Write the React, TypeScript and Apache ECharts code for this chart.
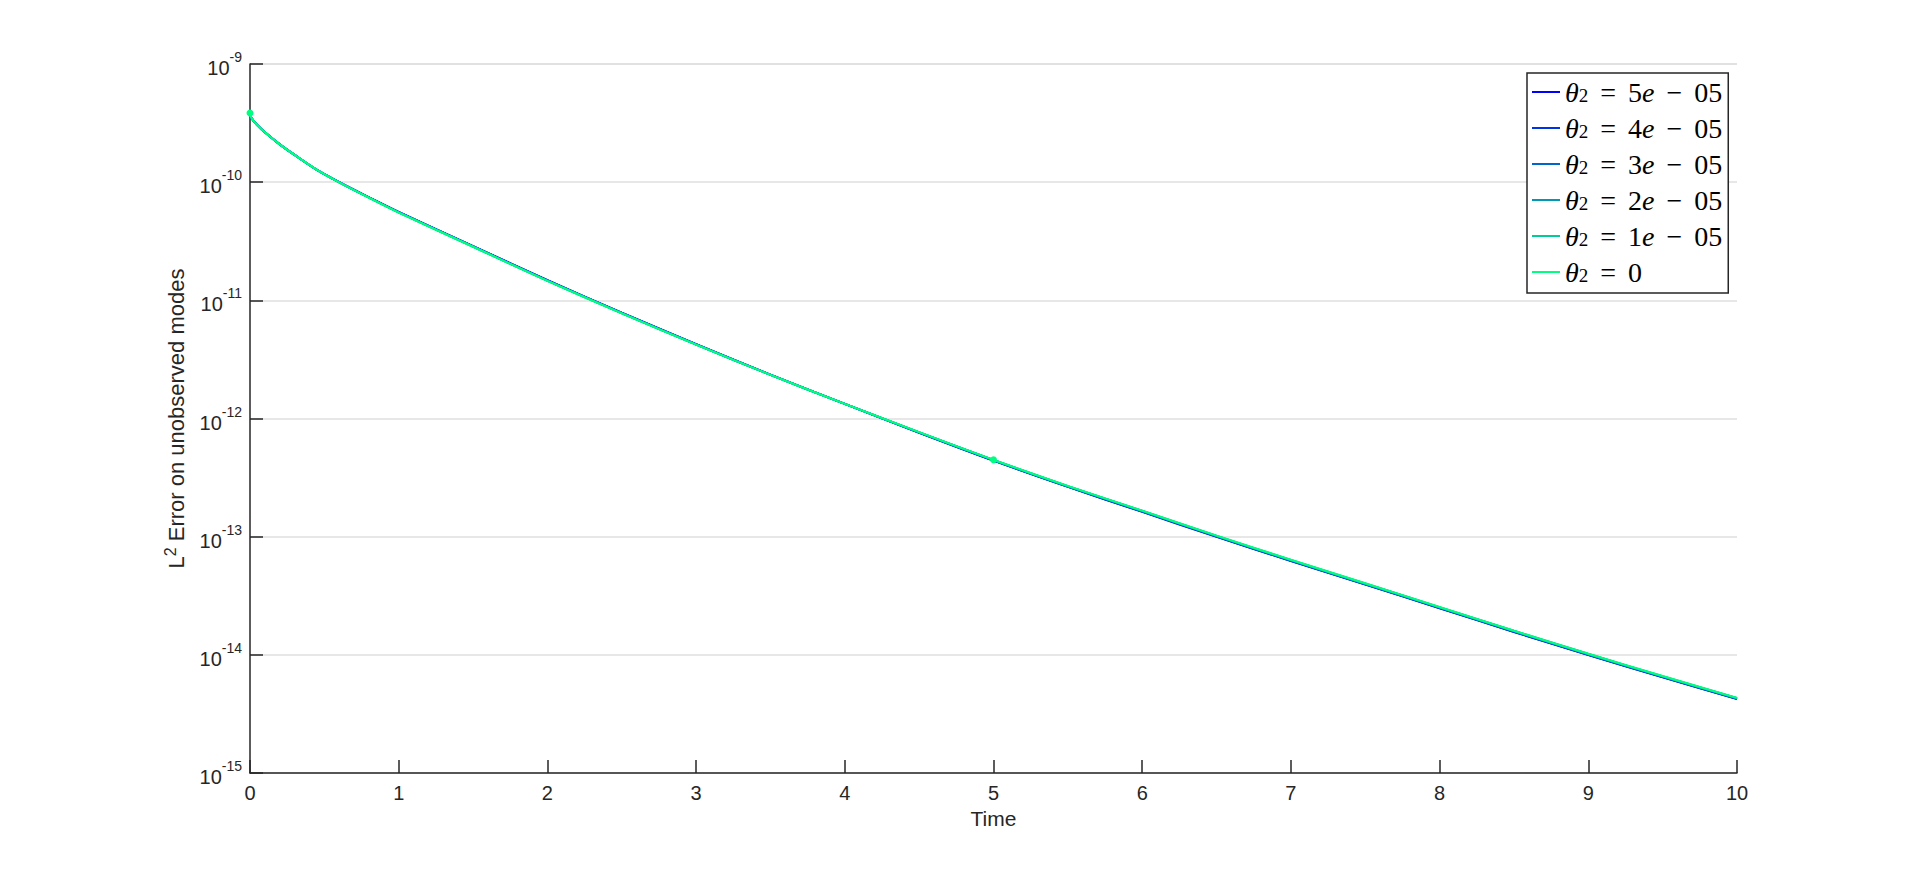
import React, { useEffect, useRef } from "react";
import * as echarts from "echarts";

const timeValues = [0, 0.005, 0.02, 0.05, 0.1, 0.2, 0.3, 0.45, 0.6, 0.8, 1.0, 1.5, 2.0, 2.5, 3.0, 3.5, 4.0, 4.5, 5.0, 5.5, 6.0, 6.5, 7.0, 7.5, 8.0, 8.5, 9.0, 9.5, 10];

const err5e5 = [3.85e-10, 3.61e-10, 3.35e-10, 3.03e-10, 2.64e-10, 2.09e-10, 1.7e-10, 1.27e-10, 1.0e-10, 7.45e-11, 5.6e-11, 2.88e-11, 1.48e-11, 7.86e-12, 4.26e-12, 2.35e-12, 1.33e-12, 7.58e-13, 4.4e-13, 2.64e-13, 1.62e-13, 9.95e-14, 6.22e-14, 3.93e-14, 2.48e-14, 1.56e-14, 9.95e-15, 6.45e-15, 4.22e-15];
const err4e5 = [3.85e-10, 3.61e-10, 3.35e-10, 3.03e-10, 2.64e-10, 2.09e-10, 1.7e-10, 1.27e-10, 9.99e-11, 7.44e-11, 5.58e-11, 2.87e-11, 1.48e-11, 7.84e-12, 4.25e-12, 2.35e-12, 1.33e-12, 7.6e-13, 4.41e-13, 2.65e-13, 1.63e-13, 1.0e-13, 6.25e-14, 3.95e-14, 2.49e-14, 1.57e-14, 1.0e-14, 6.48e-15, 4.24e-15];
const err3e5 = [3.85e-10, 3.61e-10, 3.35e-10, 3.03e-10, 2.64e-10, 2.09e-10, 1.7e-10, 1.27e-10, 9.98e-11, 7.42e-11, 5.57e-11, 2.86e-11, 1.47e-11, 7.81e-12, 4.24e-12, 2.34e-12, 1.33e-12, 7.62e-13, 4.43e-13, 2.66e-13, 1.64e-13, 1.01e-13, 6.29e-14, 3.98e-14, 2.51e-14, 1.58e-14, 1.01e-14, 6.53e-15, 4.27e-15];
const err2e5 = [3.85e-10, 3.61e-10, 3.35e-10, 3.03e-10, 2.64e-10, 2.09e-10, 1.7e-10, 1.27e-10, 9.97e-11, 7.4e-11, 5.55e-11, 2.85e-11, 1.47e-11, 7.79e-12, 4.23e-12, 2.34e-12, 1.33e-12, 7.64e-13, 4.45e-13, 2.67e-13, 1.65e-13, 1.01e-13, 6.33e-14, 4.0e-14, 2.52e-14, 1.59e-14, 1.01e-14, 6.57e-15, 4.29e-15];
const err1e5 = [3.85e-10, 3.61e-10, 3.35e-10, 3.03e-10, 2.64e-10, 2.09e-10, 1.7e-10, 1.27e-10, 9.96e-11, 7.39e-11, 5.54e-11, 2.84e-11, 1.46e-11, 7.77e-12, 4.22e-12, 2.34e-12, 1.33e-12, 7.66e-13, 4.46e-13, 2.68e-13, 1.66e-13, 1.02e-13, 6.36e-14, 4.02e-14, 2.53e-14, 1.6e-14, 1.02e-14, 6.59e-15, 4.31e-15];
const err0 = [3.85e-10, 3.61e-10, 3.35e-10, 3.03e-10, 2.64e-10, 2.09e-10, 1.7e-10, 1.27e-10, 9.95e-11, 7.38e-11, 5.53e-11, 2.84e-11, 1.46e-11, 7.76e-12, 4.22e-12, 2.34e-12, 1.33e-12, 7.67e-13, 4.47e-13, 2.69e-13, 1.66e-13, 1.02e-13, 6.38e-14, 4.03e-14, 2.54e-14, 1.6e-14, 1.02e-14, 6.61e-15, 4.32e-15];

const thetaLabels = ["5e-05", "4e-05", "3e-05", "2e-05", "1e-05", "0"];
const seriesValues = [err5e5, err4e5, err3e5, err2e5, err1e5, err0];
const seriesColors = ["#0000ff", "#0033e6", "#0066cc", "#0099b3", "#00cc99", "#00ff80"];
const markerTimes = [0, 5];

const xTicks = [0, 1, 2, 3, 4, 5, 6, 7, 8, 9, 10];

const SANS = "'Liberation Sans', Arial, Helvetica, sans-serif";
const SERIF = "'Liberation Serif', 'DejaVu Serif', serif";
const INK = "#262626";

export default function App() {
  const ref = useRef<HTMLDivElement>(null);

  useEffect(() => {
    if (!ref.current) return;
    const chart = echarts.init(ref.current, undefined, { renderer: "svg" });

    const series = thetaLabels.map((lab, si) => {
      const isTop = si === thetaLabels.length - 1;
      return {
        name: `θ2 = ${lab}`,
        type: "line",
        smooth: 0.3,
        symbol: "none",
        showSymbol: isTop,
        lineStyle: { width: 2, color: seriesColors[si] },
        itemStyle: { color: seriesColors[si] },
        emphasis: { disabled: true },
        data: timeValues.map((t, i) => {
          const v = seriesValues[si][i];
          if (isTop && markerTimes.includes(t)) {
            return { value: [t, v], symbol: "circle", symbolSize: 7 };
          }
          return [t, v];
        }),
      };
    });

    const legendFormatter = (name: string) => {
      const val = name.replace("θ2 = ", "");
      if (val === "0") return "{it|θ}{sub|2}{op|=}{n|0}";
      const [mant, exp] = val.split("e-");
      return `{it|θ}{sub|2}{op|=}{n|${mant}}{it|e}{op|−}{n|${exp}}`;
    };

    chart.setOption({
      animation: false,
      backgroundColor: "#ffffff",
      grid: { left: 250, top: 64, right: 183, bottom: 97, containLabel: false },
      legend: {
        orient: "vertical",
        left: 1527,
        top: 73,
        padding: [5, 6, 7, 5],
        itemGap: 8,
        itemWidth: 28,
        itemHeight: 2,
        icon: "rect",
        borderColor: INK,
        borderWidth: 1.5,
        backgroundColor: "#ffffff",
        data: thetaLabels.map((lab) => `θ2 = ${lab}`),
        formatter: legendFormatter,
        textStyle: {
          color: "#000000",
          fontFamily: SERIF,
          fontSize: 28,
          lineHeight: 26,
          rich: {
            it: { fontFamily: SERIF, fontStyle: "italic", fontSize: 28, lineHeight: 26, color: "#000" },
            n: { fontFamily: SERIF, fontSize: 28, lineHeight: 26, color: "#000" },
            op: { fontFamily: SERIF, fontSize: 28, lineHeight: 26, color: "#000", padding: [0, 12, 0, 12] },
            sub: { fontFamily: SERIF, fontSize: 19, lineHeight: 12, verticalAlign: "bottom", color: "#000" },
          },
        },
      },
      xAxis: {
        type: "value",
        min: 0,
        max: 10,
        interval: 1,
        name: "Time",
        nameLocation: "middle",
        nameGap: 35,
        nameTextStyle: { fontFamily: SANS, fontSize: 21, color: INK },
        axisLine: { show: true, lineStyle: { color: INK, width: 1.5 } },
        axisTick: { show: true, inside: true, length: 13, lineStyle: { color: INK, width: 1.5 } },
        axisLabel: {
          margin: 10,
          fontFamily: SANS,
          fontSize: 20,
          color: INK,
          formatter: (v: number) => (xTicks.includes(v) ? String(v) : ""),
        },
        splitLine: { show: false },
      },
      yAxis: {
        type: "log",
        logBase: 10,
        min: 1e-15,
        max: 1e-9,
        name: "{b|L}{s|2}{b| Error on unobserved modes}",
        nameLocation: "middle",
        nameGap: 60,
        nameRotate: 90,
        nameTextStyle: {
          fontFamily: SANS,
          fontSize: 22,
          color: INK,
          rich: {
            b: { fontFamily: SANS, fontSize: 22, lineHeight: 28, color: INK },
            s: { fontFamily: SANS, fontSize: 16, lineHeight: 14, verticalAlign: "top", color: INK },
          },
        },
        axisLine: { show: true, lineStyle: { color: INK, width: 1.5 } },
        axisTick: { show: true, inside: true, length: 13, lineStyle: { color: INK, width: 1.5 } },
        minorTick: { show: false },
        axisLabel: {
          margin: 8,
          fontFamily: SANS,
          color: INK,
          formatter: (v: number) => {
            const e = Math.round(Math.log10(v));
            return `{b|10}{s|${e}}`;
          },
          rich: {
            b: { fontFamily: SANS, fontSize: 20, lineHeight: 28, verticalAlign: "bottom", color: INK },
            s: { fontFamily: SANS, fontSize: 14, lineHeight: 14, verticalAlign: "top", color: INK },
          },
        },
        splitLine: { show: true, lineStyle: { color: "#dfdfdf", width: 1.5 } },
      },
      series,
    });

    return () => chart.dispose();
  }, []);

  return (
    <div
      ref={ref}
      style={{ position: "fixed", left: 0, top: 0, width: 1920, height: 870, background: "#fff" }}
    />
  );
}
